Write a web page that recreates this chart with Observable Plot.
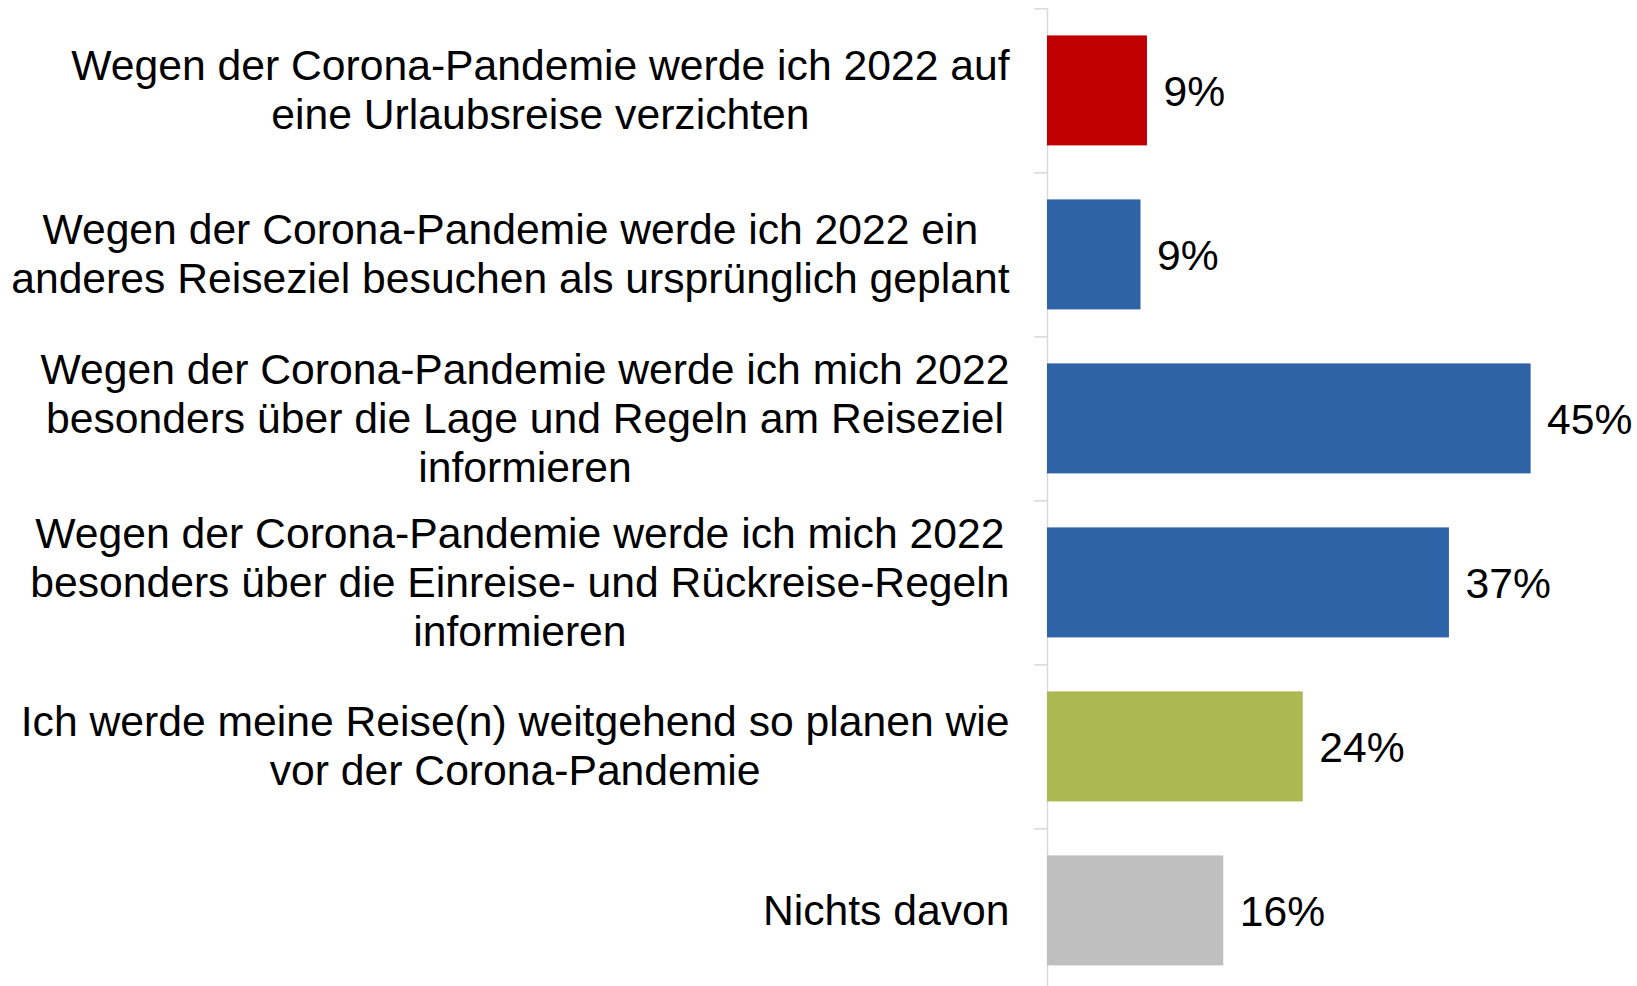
<!DOCTYPE html>
<html><head><meta charset="utf-8">
<script src="https://cdn.jsdelivr.net/npm/d3@7"></script>
<script src="https://cdn.jsdelivr.net/npm/@observablehq/plot@0.6"></script>
<style>html,body{margin:0;padding:0;background:#fff;overflow:hidden}</style>
</head><body><div id="chart"></div>
<script>
const categories = [
  "Wegen der Corona-Pandemie werde ich 2022 auf\neine Urlaubsreise verzichten",
  "Wegen der Corona-Pandemie werde ich 2022 ein\nanderes Reiseziel besuchen als ursprünglich geplant",
  "Wegen der Corona-Pandemie werde ich mich 2022\nbesonders über die Lage und Regeln am Reiseziel\ninformieren",
  "Wegen der Corona-Pandemie werde ich mich 2022\nbesonders über die Einreise- und Rückreise-Regeln\ninformieren",
  "Ich werde meine Reise(n) weitgehend so planen wie\nvor der Corona-Pandemie",
  "Nichts davon"
];
const values = [9.3, 8.7, 45.0, 37.4, 23.8, 16.4];
const valueLabels = ["9%", "9%", "45%", "37%", "24%", "16%"];
const colors = ["#C00000", "#2E63A8", "#2E63A8", "#2E63A8", "#ACB852", "#BFBFBF"];
const boundaries = [0, 1, 2, 3, 4, 5, 6];

const FONT = "'Liberation Sans', Arial, sans-serif";
const FS = 42.67;
const ctx = document.createElement("canvas").getContext("2d");
ctx.font = `${FS}px ${FONT}`;
const blockWidth = c => d3.max(c.split("\n"), l => ctx.measureText(l).width);

const data = categories.map((c, i) => ({c, i, v: values[i], label: valueLabels[i], color: colors[i]}));

const plot = Plot.plot({
  width: 1637, height: 986,
  marginLeft: 1047, marginRight: 0, marginTop: 0, marginBottom: 0,
  style: {fontFamily: FONT, fontSize: FS + "px", color: "#000", background: "#fff", overflow: "hidden"},
  x: {domain: [0, 54.9], axis: null},
  y: {domain: [0, 6], range: [8.4, 992.4], axis: null},
  marks: [
    Plot.ruleX([0], {y1: 0, y2: 6, stroke: "#D9D9D9", strokeWidth: 1.5}),
    Plot.axisY(boundaries, {anchor: "left", label: null, tickSize: 13, tickFormat: () => "", stroke: "#D9D9D9", strokeWidth: 1.5}),
    Plot.rect(data, {x1: 0, x2: "v", y1: "i", y2: d => d.i + 1, fill: "color", insetTop: 27, insetBottom: 27}),
    Plot.text(data, {x: "v", y: d => d.i + 0.5, text: "label", textAnchor: "start", dx: 16, dy: 1, fontSize: FS, fill: "#000"}),
    ...categories.map((c, i) => Plot.text([c], {
      x: 0, y: i + 0.5, text: d => d, textAnchor: "middle",
      dx: -(38 + blockWidth(c) / 2), dy: -2, lineHeight: 1.15, fontSize: FS, fill: "#000"
    }))
  ]
});
document.getElementById("chart").appendChild(plot);
</script>
</body></html>
